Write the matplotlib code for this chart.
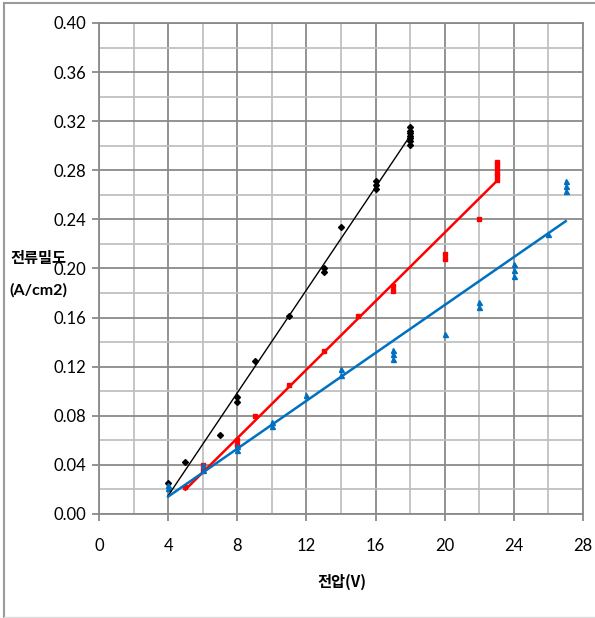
import numpy as np
import matplotlib
matplotlib.use("Agg")
import matplotlib.pyplot as plt
from matplotlib.lines import Line2D
from matplotlib.ticker import MultipleLocator

# DATA
black_x = [4, 5, 7, 8, 8, 9, 11, 13, 13, 14, 16, 16, 16, 18, 18, 18, 18, 18, 18, 18]
black_y = [0.025, 0.042, 0.064, 0.091, 0.095, 0.125, 0.161, 0.197, 0.200, 0.234,
           0.265, 0.268, 0.271, 0.301, 0.304, 0.306, 0.308, 0.310, 0.312, 0.315]

red_x = [5, 6, 6, 8, 8, 9, 11, 13, 15, 17, 17, 20, 20, 22, 23, 23, 23, 23, 23, 23]
red_y = [0.022, 0.036, 0.040, 0.056, 0.060, 0.080, 0.105, 0.133, 0.161, 0.182,
         0.186, 0.208, 0.212, 0.240, 0.272, 0.275, 0.278, 0.281, 0.284, 0.287]

blue_x = [4, 4, 6, 6, 8, 8, 10, 10, 12, 14, 14, 17, 17, 17, 20, 22, 22, 24, 24, 24, 26, 27, 27, 27]
blue_y = [0.021, 0.024, 0.036, 0.040, 0.052, 0.055, 0.072, 0.075, 0.097, 0.113, 0.118,
          0.126, 0.130, 0.134, 0.147, 0.169, 0.173, 0.194, 0.199, 0.204, 0.228,
          0.263, 0.267, 0.271]

x_ticks = [0, 4, 8, 12, 16, 20, 24, 28]
y_ticks = [0.00, 0.04, 0.08, 0.12, 0.16, 0.20, 0.24, 0.28, 0.32, 0.36, 0.40]

NUM_FONT = ["Lato", "DejaVu Sans"]
KR_FONT = ["Noto Sans CJK KR", "DejaVu Sans"]

fig = plt.figure(figsize=(5.95, 6.18), dpi=100)
ax = fig.add_axes([0.1664, 0.1683, 0.8134, 0.7945])

#Grid
ax.set_xlim(0, 28)
ax.set_ylim(0, 0.40)
ax.xaxis.set_major_locator(MultipleLocator(4))
ax.xaxis.set_minor_locator(MultipleLocator(2))
ax.yaxis.set_major_locator(MultipleLocator(0.04))
ax.yaxis.set_minor_locator(MultipleLocator(0.02))
ax.grid(which="minor", color="#c0c0c0", linewidth=1.3, zorder=0)
ax.grid(which="major", color="#8a8a8a", linewidth=1.3, zorder=0)
ax.set_axisbelow(True)

for s in ax.spines.values():
    s.set_color("#8a8a8a")
    s.set_linewidth(1.3)

ax.set_xticks(x_ticks)
ax.set_xticklabels([str(v) for v in x_ticks], family=NUM_FONT, fontsize=12)
ax.set_yticks(y_ticks)
ax.set_yticklabels([f"{v:.2f}" for v in y_ticks], family=NUM_FONT, fontsize=12)
ax.tick_params(axis="x", which="major", direction="out", length=5, width=1.3, color="#8a8a8a", pad=12)
ax.tick_params(axis="y", which="major", direction="out", length=5, width=1.3, color="#8a8a8a", pad=4)
ax.tick_params(which="minor", length=0)

#Series + linear trendlines
series = [
    (black_x, black_y, "black", "D", 3.0, 1.0),
    (red_x, red_y, "#ff0000", "s", 3.2, 1.8),
    (blue_x, blue_y, "#0070c0", "^", 3.6, 1.8),
]
for xs, ys, col, mk, ms, lw in series:
    ax.plot(xs, ys, linestyle="none", marker=mk, markersize=ms, color=col, zorder=3)
    k, b = np.polyfit(xs, ys, 1)
    xx = np.array([min(xs), max(xs)])
    ax.plot(xx, k * xx + b, color=col, linewidth=lw, zorder=4)

#Axis titles
fig.text(0.065, 0.5825, "전류밀도", family=KR_FONT, fontweight="bold", fontsize=11,
         ha="center", va="center")
fig.text(0.065, 0.530, "(A/cm2)", family=NUM_FONT, fontweight="bold", fontsize=11.5,
         ha="center", va="center")
fig.text(0.575, 0.058, "전압(V)", family=KR_FONT, fontweight="bold", fontsize=11,
         ha="center", va="center")

#Outer frame
fig.add_artist(Line2D([0.007, 0.007], [0.0, 0.995], color="#9a9a9a", linewidth=1.5))
fig.add_artist(Line2D([0.007, 1.0], [0.995, 0.995], color="#9a9a9a", linewidth=1.5))
fig.add_artist(Line2D([0.007, 1.0], [0.002, 0.002], color="#dddddd", linewidth=1.0))

fig.savefig("out.png", dpi=100)
